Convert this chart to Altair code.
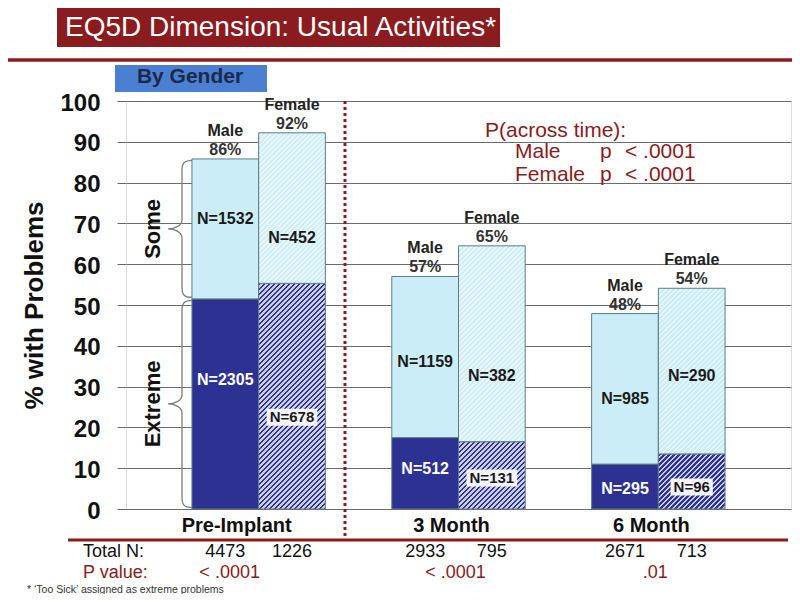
import altair as alt
import pandas as pd

# ---------------- data ----------------
categories = ["Pre-Implant", "3 Month", "6 Month"]
genders = ["Male", "Female"]
extreme_pct = [51.5, 55.3, 17.5, 16.5, 11.0, 13.5]
some_pct = [34.3, 36.9, 39.5, 48.0, 36.9, 40.6]
pct_labels = ["86%", "92%", "57%", "65%", "48%", "54%"]
n_extreme = [2305, 678, 512, 131, 295, 96]
n_some = [1532, 452, 1159, 382, 985, 290]
total_n = [4473, 1226, 2933, 795, 2671, 713]
p_values = ["< .0001", "< .0001", ".01"]
some_label_at = [71.0, 66.5, 36.0, 32.5, 27.0, 32.5]
extreme_label_at = [31.5, 22.5, 9.8, 7.6, 4.8, 5.4]
p_time_rows = [("Male", "p", "< .0001"), ("Female", "p", "< .0001")]

FONT = "Liberation Sans"
W, H = 665, 408
PX = H / 100.0
DARKRED = "#8b1a1c"
STROKE = "#5b7c84"
NAVY = "#2d3192"
CYAN = "#cbedf8"

CHAR_W = {"N": 722, "=": 584}


def text_w(s, size):
    return sum(CHAR_W.get(ch, 556) for ch in s) * size / 1000.0


rows = []
i = 0
for c in categories:
    for g in genders:
        ne = f"N={n_extreme[i]}"
        hw = text_w(ne, 15) / 2 + 3
        rows.append(dict(cat=c, gender=g, base=0.0, ext=extreme_pct[i],
                         top=extreme_pct[i] + some_pct[i], pct=pct_labels[i],
                         ne=ne, ns=f"N={n_some[i]}", tn=str(total_n[i]),
                         sy=some_label_at[i], ey=extreme_label_at[i],
                         box=f"M{-hw:.1f},-8.5H{hw:.1f}V8.5H{-hw:.1f}Z"))
        i += 1
df = pd.DataFrame(rows)
pdf = pd.DataFrame({"cat": categories, "p": p_values})
one = pd.DataFrame({"k": [0]})

# ---------------- scales / axes ----------------
PI, PO = 0.3325, 0.33
step = W / (len(categories) - PI + 2 * PO)
SUBW = step * (1 - PI) / 2

xaxis = alt.Axis(title=None, labelFont=FONT, labelFontSize=20, labelFontWeight="bold",
                 labelColor="#111", labelPadding=6, ticks=False, domain=False, grid=False,
                 labelAngle=0,
                 labelOffset={"condition": {"test": "datum.value === 'Pre-Implant'", "value": -22},
                              "value": -7})
yaxis = alt.Axis(values=list(range(0, 101, 10)), title="% with Problems", titleFont=FONT,
                 titleFontSize=26, titleFontWeight="bold", titleColor="#111", titlePadding=12,
                 labelFont=FONT, labelFontSize=24, labelFontWeight="bold", labelColor="#111",
                 labelPadding=17, labelOffset=2, tickSize=9, tickColor="#666", grid=True,
                 gridColor="#6b6b6b", gridWidth=1.2, domain=False)
xsc = alt.Scale(domain=categories, paddingInner=PI, paddingOuter=PO)
osc = alt.Scale(domain=genders, paddingInner=0, paddingOuter=0)
ysc = alt.Scale(domain=[0, 100], nice=False)

X = alt.X("cat:N", scale=xsc, sort=categories, axis=xaxis)
XO = alt.XOffset("gender:N", scale=osc, sort=genders)


def Yf(field):
    return alt.Y(field, scale=ysc, axis=yaxis)


def hatch(h, w, period, c1, c2, frac):
    r = w / h
    k = (r + 1) / (r * r + 1)
    total = w + h
    stops = []
    pos = 0.0
    while pos < total:
        o1 = pos / total
        o2 = min((pos + period * frac) / total, 1.0)
        o3 = min((pos + period) / total, 1.0)
        stops += [{"offset": o1, "color": c1}, {"offset": o2, "color": c1},
                  {"offset": o2, "color": c2}, {"offset": o3, "color": c2}]
        pos += period
    return {"gradient": "linear", "x1": 0, "y1": 0, "x2": r * k, "y2": k, "stops": stops}


def label(text, x, y, size, color="#111", weight="normal", align="left", baseline="alphabetic"):
    return alt.Chart(one).mark_text(text=text, font=FONT, fontSize=size, fontWeight=weight,
                                    color=color, align=align, baseline=baseline).encode(
        x=alt.value(x), y=alt.value(y))


def rect(x, x2, y, y2, color):
    return alt.Chart(one).mark_rect(color=color).encode(
        x=alt.value(x), x2=alt.value(x2), y=alt.value(y), y2=alt.value(y2))


def brace_path(h, tip=14, end=10):
    return (f"M{end},{-h:.1f}C2,{-h:.1f},0,{-h + 3:.1f},0,{-h + 10:.1f}"
            f"L0,-9C0,-3,{-tip + 6},0,{-tip},0C{-tip + 6},0,0,3,0,9"
            f"L0,{h - 10:.1f}C0,{h - 3:.1f},2,{h:.1f},{end},{h:.1f}")


layers = []

# decorations at the top
layers.append(rect(-69, 374, -93, -54, "#8a1b1e"))
layers.append(label("EQ5D Dimension: Usual Activities*", -61, -65, 28, color="white"))
layers.append(alt.Chart(one).mark_rule(color=DARKRED, strokeWidth=3.5).encode(
    x=alt.value(-119), x2=alt.value(666), y=alt.value(-41)))
layers.append(rect(-11, 141, -36, -9, "#4a7fd1"))
layers.append(label("By Gender", 64, -18, 21, color="#1b2a4a", weight="bold", align="center"))

# bars
male = alt.Chart(df).transform_filter("datum.gender == 'Male'")
layers.append(male.mark_bar(fill=NAVY, stroke=STROKE, strokeWidth=1).encode(
    x=X, xOffset=XO, y=Yf("base:Q"), y2="ext:Q"))
layers.append(male.mark_bar(fill=CYAN, stroke=STROKE, strokeWidth=1).encode(
    x=X, xOffset=XO, y=Yf("ext:Q"), y2="top:Q"))

for _, r in df[df.gender == "Female"].iterrows():
    segs = [("base", "ext", "#2f3494", "#c9cdee", 0.55),
            ("ext", "top", "#cbedf8", "#e6f6fc", 0.5)]
    for lo, hi, c1, c2, frac in segs:
        hpx = (r[hi] - r[lo]) * PX
        fill = hatch(hpx, SUBW, 5.0, c1, c2, frac)
        layers.append(
            alt.Chart(df).transform_filter(
                f"datum.gender == 'Female' && datum.cat == '{r['cat']}'"
            ).mark_bar(fill=fill, stroke=STROKE, strokeWidth=1).encode(
                x=X, xOffset=XO, y=Yf(f"{lo}:Q"), y2=f"{hi}:Q"))

# N labels
layers.append(male.mark_text(font=FONT, fontSize=16, fontWeight="bold", color="#1a1a1a").encode(
    x=X, xOffset=XO, y=Yf("sy:Q"), text="ns:N"))
layers.append(male.mark_text(font=FONT, fontSize=16, fontWeight="bold", color="white").encode(
    x=X, xOffset=XO, y=Yf("ey:Q"), text="ne:N"))
female = alt.Chart(df).transform_filter("datum.gender == 'Female'")
layers.append(female.mark_text(font=FONT, fontSize=16, fontWeight="bold", color="#1a1a1a").encode(
    x=X, xOffset=XO, y=Yf("sy:Q"), text="ns:N"))
layers.append(female.mark_point(filled=True, fill="white", opacity=0.92, size=4, strokeWidth=0).encode(
    x=X, xOffset=XO, y=Yf("ey:Q"), shape=alt.Shape("box:N", scale=None)))
layers.append(female.mark_text(font=FONT, fontSize=15, fontWeight="bold", color="#1a1a1a").encode(
    x=X, xOffset=XO, y=Yf("ey:Q"), text="ne:N"))

# labels above bars
allb = alt.Chart(df)
layers.append(allb.mark_text(font=FONT, fontSize=16, fontWeight="bold", color="#333",
                             baseline="alphabetic", dy=-4).encode(
    x=X, xOffset=XO, y=Yf("top:Q"), text="pct:N"))
layers.append(allb.mark_text(font=FONT, fontSize=16, fontWeight="bold", color="#222",
                             baseline="alphabetic", dy=-23).encode(
    x=X, xOffset=XO, y=Yf("top:Q"), text="gender:N"))

# braces and their words
pm = df.iloc[0]
brace_df = pd.DataFrame({
    "mid": [(pm["ext"] + pm["top"]) / 2, pm["ext"] / 2],
    "shape": [brace_path((pm["top"] - pm["ext"]) * PX / 2 - 1.5), brace_path(pm["ext"] * PX / 2 - 1.5)],
    "word": ["Some", "Extreme"],
})
layers.append(alt.Chart(brace_df).mark_point(filled=False, stroke="#7d7d7d", strokeWidth=1.3,
                                             opacity=1, size=4).encode(
    x=alt.value(56), y=Yf("mid:Q"), shape=alt.Shape("shape:N", scale=None)))
layers.append(alt.Chart(brace_df).mark_text(font=FONT, fontSize=22, fontWeight="bold", color="#111",
                                            angle=270, align="center", baseline="middle").encode(
    x=alt.value(27), y=Yf("mid:Q"), text="word:N"))

# dotted separator
layers.append(alt.Chart(one).mark_rule(color=DARKRED, strokeWidth=3, strokeDash=[3, 3]).encode(
    x=alt.value(219), y=alt.value(0), y2=alt.value(439)))

# P(across time)
layers.append(label("P(across time):", 359, 36, 21, color=DARKRED))
for (g, pp, v), yy in zip(p_time_rows, [57, 80]):
    layers.append(label(g, 389, yy, 21, color=DARKRED))
    layers.append(label(pp, 474, yy, 21, color=DARKRED))
    layers.append(label(v, 499, yy, 21, color=DARKRED))

# bottom table
BOT = 18
layers.append(alt.Chart(one).mark_rule(color=DARKRED, strokeWidth=3).encode(
    x=alt.value(-58), x2=alt.value(662), y=alt.value(439)))
layers.append(label("Total N:", -43, 456, BOT, color="#111"))
layers.append(label("P value:", -43, 477, BOT, color=DARKRED))
layers.append(allb.mark_text(font=FONT, fontSize=BOT, color="#111", baseline="alphabetic").encode(
    x=X, xOffset=XO, y=alt.value(456), text="tn:N"))
layers.append(alt.Chart(pdf).transform_filter("datum.cat == 'Pre-Implant'").mark_text(
    font=FONT, fontSize=BOT, color=DARKRED, baseline="alphabetic", dx=-29).encode(
    x=X, y=alt.value(477), text="p:N"))
layers.append(alt.Chart(pdf).transform_filter("datum.cat != 'Pre-Implant'").mark_text(
    font=FONT, fontSize=BOT, color=DARKRED, baseline="alphabetic", dx=-3).encode(
    x=X, y=alt.value(477), text="p:N"))
layers.append(label("* \u2018Too Sick\u2019 assigned  as extreme problems", -99, 492, 10.5, color="#333"))

chart = alt.layer(*layers).properties(
    width=W, height=H,
    autosize=alt.AutoSizeParams(type="none"),
    padding={"left": 118, "top": 93, "right": 1, "bottom": 85},
).configure_view(stroke="#7a7a7a", strokeWidth=1).configure(background="white")

chart.save("out.html", embed_options={"renderer": "svg", "actions": False})
